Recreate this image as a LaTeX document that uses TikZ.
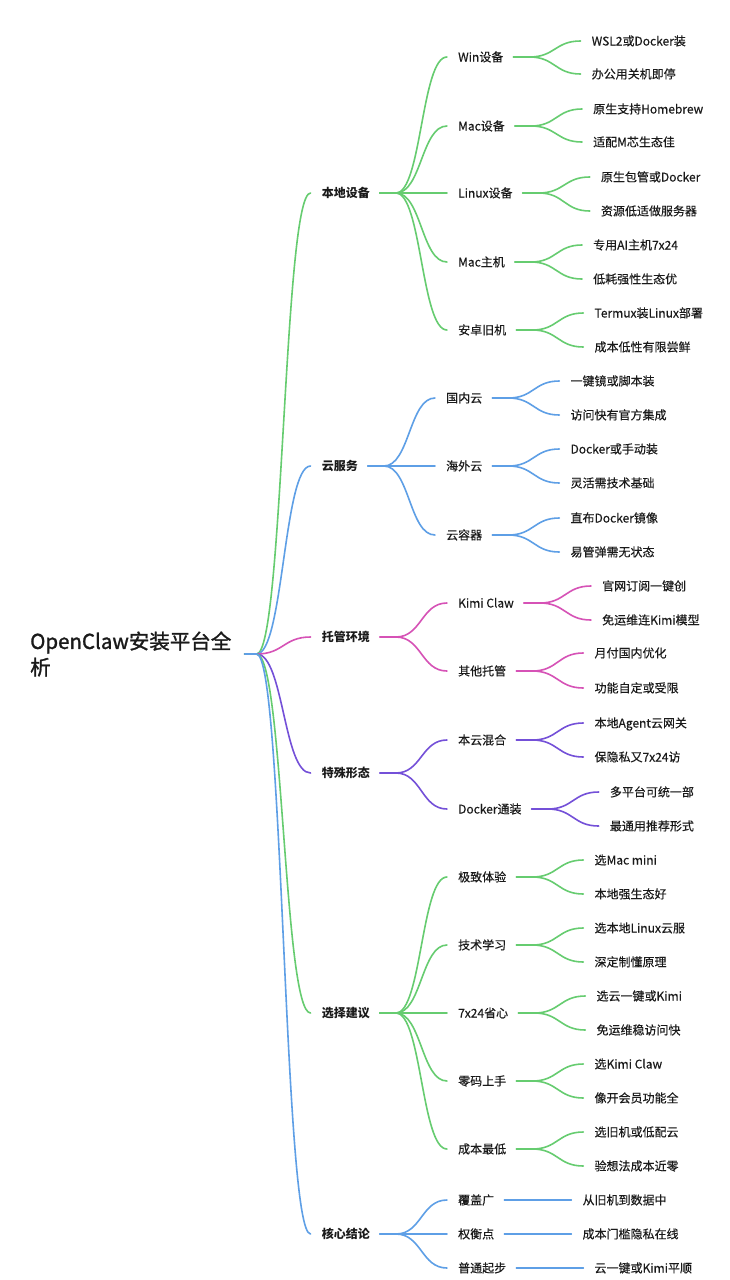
\documentclass[tikz,border=0pt]{standalone}
\usepackage{fontspec}
\setmainfont{Noto Sans CJK SC}[UprightFeatures={FakeBold=0.3}]
\newfontfamily\mmrootfont[FakeBold=1.3]{Noto Sans CJK SC}
\usetikzlibrary{calc}
\definecolor{cg}{HTML}{66CC70}
\definecolor{cb}{HTML}{5E9FE6}
\definecolor{cp}{HTML}{D652B6}
\definecolor{cv}{HTML}{7450D8}
\definecolor{tx}{HTML}{1A1A1A}
\tikzset{
  lbl/.style={anchor=west, inner sep=0pt, text height=9pt, text depth=0pt,
    font=\fontsize{12}{14}\selectfont, text=tx},
  toplbl/.style={lbl, font=\fontsize{12}{14}\selectfont\bfseries},
  rootlbl/.style={anchor=west, inner sep=0pt, align=left,
    font=\mmrootfont\fontsize{20.5}{26}\selectfont, text=tx},
  link/.style={line width=1.6pt, line cap=round},
}
% child of a first-level or second-level node
\newcommand\mmkid[5]{%
  \node[lbl] (#2) at ($(#1.east |- 0,#3)+(88,0)$) {#5};
  \draw[link,#4] ($(#1.east)+(10,0)$) -- ($(#1.east)+(26,0)$)
    .. controls ($(#1.east)+(51.5,0)$) and ($(#2.west)+(-36.5,0)$) .. ($(#2.west)+(-11,0)$);
}
% first-level child of the root
\newcommand\mmtop[4]{%
  \node[toplbl] (#1) at ($(root.east |- 0,#2)+(90,0)$) {#4};
  \draw[link,#3] ($(root.east)+(13,0)$) -- ($(root.east)+(25,0)$)
    .. controls ($(root.east)+(52,0)$) and ($(#1.west)+(-38,0)$) .. ($(#1.west)+(-11,0)$);
}
\begin{document}
\begin{tikzpicture}[x=1pt,y=-1pt]
\fill[white] (0,0) rectangle (730,1280);
\useasboundingbox (0,0) rectangle (730,1280);

\node[rootlbl] (root) at (30,654) {OpenClaw安装平台全\\析};

% 本地设备
\mmtop{A}{193}{cg}{本地设备}
\mmkid{A}{A1}{57}{cg}{Win设备}
\mmkid{A1}{A1a}{41}{cg}{WSL2或Docker装}
\mmkid{A1}{A1b}{74}{cg}{办公用关机即停}
\mmkid{A}{A2}{126}{cg}{Mac设备}
\mmkid{A2}{A2a}{109}{cg}{原生支持Homebrew}
\mmkid{A2}{A2b}{142}{cg}{适配M芯生态佳}
\mmkid{A}{A3}{193}{cg}{Linux设备}
\mmkid{A3}{A3a}{177}{cg}{原生包管或Docker}
\mmkid{A3}{A3b}{211}{cg}{资源低适做服务器}
\mmkid{A}{A4}{262}{cg}{Mac主机}
\mmkid{A4}{A4a}{245}{cg}{专用AI主机7x24}
\mmkid{A4}{A4b}{279}{cg}{低耗强性生态优}
\mmkid{A}{A5}{330}{cg}{安卓旧机}
\mmkid{A5}{A5a}{313}{cg}{Termux装Linux部署}
\mmkid{A5}{A5b}{347}{cg}{成本低性有限尝鲜}

% 云服务
\mmtop{B}{466}{cb}{云服务}
\mmkid{B}{B1}{398}{cb}{国内云}
\mmkid{B1}{B1a}{381}{cb}{一键镜或脚本装}
\mmkid{B1}{B1b}{415}{cb}{访问快有官方集成}
\mmkid{B}{B2}{466}{cb}{海外云}
\mmkid{B2}{B2a}{449}{cb}{Docker或手动装}
\mmkid{B2}{B2b}{483}{cb}{灵活需技术基础}
\mmkid{B}{B3}{535}{cb}{云容器}
\mmkid{B3}{B3a}{518}{cb}{直布Docker镜像}
\mmkid{B3}{B3b}{552}{cb}{易管弹需无状态}

% 托管环境
\mmtop{C}{637}{cp}{托管环境}
\mmkid{C}{C1}{603}{cp}{Kimi Claw}
\mmkid{C1}{C1a}{586}{cp}{官网订阅一键创}
\mmkid{C1}{C1b}{620}{cp}{免运维连Kimi模型}
\mmkid{C}{C2}{671}{cp}{其他托管}
\mmkid{C2}{C2a}{653}{cp}{月付国内优化}
\mmkid{C2}{C2b}{688}{cp}{功能自定或受限}

% 特殊形态
\mmtop{D}{773}{cv}{特殊形态}
\mmkid{D}{D1}{740}{cv}{本云混合}
\mmkid{D1}{D1a}{723}{cv}{本地Agent云网关}
\mmkid{D1}{D1b}{757}{cv}{保隐私又7x24访}
\mmkid{D}{D2}{809}{cv}{Docker通装}
\mmkid{D2}{D2a}{792}{cv}{多平台可统一部}
\mmkid{D2}{D2b}{826}{cv}{最通用推荐形式}

% 选择建议
\mmtop{E}{1013}{cg}{选择建议}
\mmkid{E}{E1}{877}{cg}{极致体验}
\mmkid{E1}{E1a}{860}{cg}{选Mac mini}
\mmkid{E1}{E1b}{894}{cg}{本地强生态好}
\mmkid{E}{E2}{945}{cg}{技术学习}
\mmkid{E2}{E2a}{928}{cg}{选本地Linux云服}
\mmkid{E2}{E2b}{962}{cg}{深定制懂原理}
\mmkid{E}{E3}{1013}{cg}{7x24省心}
\mmkid{E3}{E3a}{996}{cg}{选云一键或Kimi}
\mmkid{E3}{E3b}{1030}{cg}{免运维稳访问快}
\mmkid{E}{E4}{1081}{cg}{零码上手}
\mmkid{E4}{E4a}{1064}{cg}{选Kimi Claw}
\mmkid{E4}{E4b}{1098}{cg}{像开会员功能全}
\mmkid{E}{E5}{1149}{cg}{成本最低}
\mmkid{E5}{E5a}{1132}{cg}{选旧机或低配云}
\mmkid{E5}{E5b}{1166}{cg}{验想法成本近零}

% 核心结论
\mmtop{F}{1234}{cb}{核心结论}
\mmkid{F}{F1}{1200}{cb}{覆盖广}
\mmkid{F1}{F1a}{1200}{cb}{从旧机到数据中}
\mmkid{F}{F2}{1234}{cb}{权衡点}
\mmkid{F2}{F2a}{1234}{cb}{成本门槛隐私在线}
\mmkid{F}{F3}{1268}{cb}{普通起步}
\mmkid{F3}{F3a}{1268}{cb}{云一键或Kimi平顺}

\end{tikzpicture}
\end{document}
